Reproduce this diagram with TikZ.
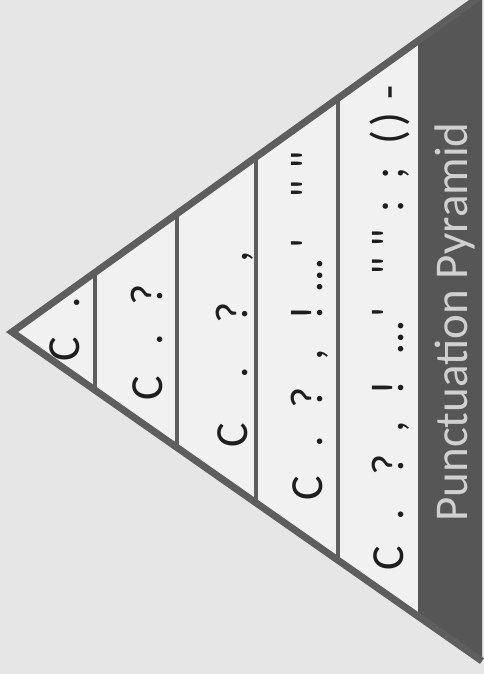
\documentclass[tikz,border=0pt]{standalone}
\usepackage{fontspec}
\setmainfont{Carlito}
\usetikzlibrary{calc}
\definecolor{paper}{HTML}{E6E6E6}
\definecolor{inside}{HTML}{F1F1F1}
\definecolor{rim}{HTML}{5E5E5E}
\definecolor{band}{HTML}{565656}
\definecolor{bandtext}{HTML}{D0D0D0}
\definecolor{ink}{HTML}{1E1E1E}
\tikzset{
  punct/.style={rotate=90, anchor=base, inner sep=0pt, text=ink,
    font=\fontsize{46}{50}\selectfont},
  rung/.style={draw=rim, line width=4.5pt},
  rimline/.style={draw=rim, line width=7pt, line join=miter}
}
\begin{document}
\begin{tikzpicture}[x=1pt, y=-1pt]
	\useasboundingbox (0,0) rectangle (484,674);
	% Fond
	\fill[paper] (0,0) rectangle (484,674);

	% Sommets du triangle
	\coordinate (apex) at (12,332);
	\coordinate (top) at (482,-5);
	\coordinate (bot) at (482,661);

	% Interieur et bande du titre
	\fill[inside] (apex) -- (top) -- (bot) -- cycle;
	\fill[band] ($(apex)!0.864!(top)$) -- (top) -- (bot) -- ($(apex)!0.864!(bot)$) -- cycle;

	% Echelons
	\foreach \t in {0.177,0.351,0.519,0.694}
	\draw[rung] ($(apex)!\t!(top)$) -- ($(apex)!\t!(bot)$);

	% Contour
	\draw[rimline] (top) -- (apex) -- (bot);

	% Niveau 1
	\foreach \c/\y [count=\i] in {{C}/349,{.}/303}
	\node[punct] (lvlA-\i) at (79,\y) {\c};
	% Niveau 2
	\foreach \c/\y [count=\i] in {{C}/388,{.}/340,{?}/295}
	\node[punct] (lvlB-\i) at (162,\y) {\c};
	% Niveau 3
	\foreach \c/\y [count=\i] in {{C}/435,{.}/373,{?}/313,{,}/257}
	\node[punct] (lvlC-\i) at (247,\y) {\c};
	% Niveau 4
	\foreach \c/\y [count=\i] in {{C}/488,{.}/442,{?}/398,{,}/355,{!}/313,{…}/276,{\textquotesingle}/243,{\textquotedbl}/189,{\textquotedbl}/160}
	\node[punct] (lvlD-\i) at (322,\y) {\c};
	% Niveau 5
	\foreach \c/\y [count=\i] in {{C}/558,{.}/515,{?}/465,{,}/427,{!}/388,{…}/338,{\textquotesingle}/312,{\textquotedbl}/266,{\textquotedbl}/238,{:}/206,{;}/173,{(}/138,{)}/120,{-}/92}
	\node[punct] (lvlE-\i) at (403,\y) {\c};

	% Titre
	\node[rotate=90, anchor=base, inner sep=0pt, text=bandtext,
	font=\fontsize{47}{50}\selectfont] (title) at (467,322) {Punctuation Pyramid};
\end{tikzpicture}
\end{document}
